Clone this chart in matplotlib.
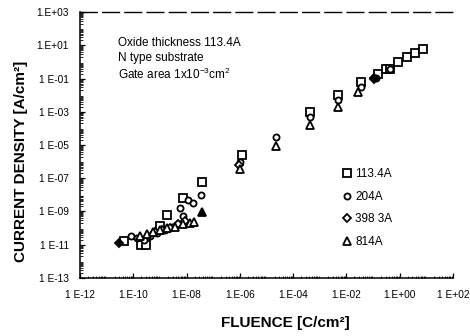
import numpy as np
import matplotlib
matplotlib.use("Agg")
import matplotlib.pyplot as plt
from matplotlib.ticker import LogLocator, FixedLocator, NullFormatter

plt.rcParams['font.family'] = ['Liberation Sans', 'DejaVu Sans']
plt.rcParams['mathtext.fontset'] = 'custom'
plt.rcParams['mathtext.rm'] = 'Liberation Sans'
plt.rcParams['mathtext.it'] = 'Liberation Sans:italic'
plt.rcParams['mathtext.bf'] = 'Liberation Sans:bold'

# log10 values
sq_x = [-10.35, -9.71, -9.52, -8.99, -8.73, -8.13, -7.41, -5.91, -3.35, -2.30, -1.47,
        -0.83, -0.53, -0.38, -0.08, 0.29, 0.56, 0.89]
sq_y = [-10.78, -11.02, -11.02, -9.87, -9.21, -8.19, -7.23, -5.60, -3.02, -2.00, -1.21,
        -0.73, -0.43, -0.43, -0.01, 0.29, 0.53, 0.77]

ci_x = [-10.08, -9.86, -9.59, -9.37, -9.11, -8.80, -8.54, -8.24, -8.13, -7.94, -7.75,
        -7.45, -5.98, -4.63, -3.35, -2.30, -1.47, -0.91, -0.38]
ci_y = [-10.47, -10.59, -10.72, -10.47, -10.29, -10.11, -9.93, -8.79, -9.27, -8.31, -8.49,
        -8.01, -6.02, -4.52, -3.32, -2.30, -1.51, -0.97, -0.43]

di_x = [-9.18, -8.92, -8.62, -8.32, -8.05, -6.02, -0.95]
di_y = [-10.23, -10.11, -9.99, -9.75, -9.57, -6.20, -0.95]
di_fill_x = [-10.53, -0.97]
di_fill_y = [-10.90, -1.00]

tr_x = [-9.74, -9.48, -9.26, -8.99, -8.73, -8.43, -8.13, -7.86, -7.71, -5.98, -4.63,
        -3.35, -2.30, -1.55]
tr_y = [-10.47, -10.35, -10.23, -10.11, -9.99, -9.93, -9.75, -9.69, -9.63, -6.45, -5.06,
        -3.80, -2.72, -1.82]
tr_fill_x = [-7.41]
tr_fill_y = [-9.03]

series_labels = ["113.4A", "204A", "398 3A", "814A"]

xtick_vals = [-12, -10, -8, -6, -4, -2, 0, 2]
xtick_labels = ["1 E-12", "1.E-10", "1.E-08", "1.E-06", "1.E-04", "1.E-02", "1.E+00", "1 E+02"]
ytick_vals = [3, 1, -1, -3, -5, -7, -9, -11, -13]
ytick_labels = ["1.E+03", "1.E+01", "1 E-01", "1 E-03", "1 E-05", "1 E-07", "1 E-09", "1 E-11", "1 E-13"]

fig = plt.figure(figsize=(4.70, 3.36), dpi=100)
ax = fig.add_axes([0.170, 0.173, 0.794, 0.791])
ax.set_xscale('log')
ax.set_yscale('log')
ax.set_xlim(1e-12, 1e2)
ax.set_ylim(1e-13, 1e3)

p = lambda a: 10.0 ** np.array(a)
ms = 5.2
mew = 1.3
h1, = ax.plot(p(sq_x), p(sq_y), ls='none', marker='s', ms=ms, mfc='white', mec='black', mew=mew, label=series_labels[0])
h2, = ax.plot(p(ci_x), p(ci_y), ls='none', marker='o', ms=ms - 0.8, mfc='white', mec='black', mew=mew, label=series_labels[1])
h3, = ax.plot(p(di_x), p(di_y), ls='none', marker='D', ms=ms - 1.4, mfc='white', mec='black', mew=mew, label=series_labels[2])
ax.plot(p(di_fill_x), p(di_fill_y), ls='none', marker='D', ms=ms - 1.0, mfc='black', mec='black', mew=mew)
h4, = ax.plot(p(tr_x), p(tr_y), ls='none', marker='^', ms=ms, mfc='white', mec='black', mew=mew, label=series_labels[3])
ax.plot(p(tr_fill_x), p(tr_fill_y), ls='none', marker='^', ms=ms + 0.5, mfc='black', mec='black', mew=mew)

ax.xaxis.set_major_locator(FixedLocator([10.0 ** v for v in xtick_vals]))
ax.set_xticklabels(xtick_labels)
ax.yaxis.set_major_locator(FixedLocator([10.0 ** v for v in ytick_vals]))
ax.set_yticklabels(ytick_labels)
ax.xaxis.set_minor_locator(LogLocator(base=10, subs=np.arange(2, 10), numticks=100))
ax.yaxis.set_minor_locator(LogLocator(base=10, subs=np.arange(2, 10), numticks=100))
ax.xaxis.set_minor_formatter(NullFormatter())
ax.yaxis.set_minor_formatter(NullFormatter())
ax.tick_params(which='major', direction='in', length=3.5, width=0.9, labelsize=7.3, top=False, right=False)
ax.tick_params(which='minor', direction='in', length=1.8, width=0.6, top=False, right=False)
ax.tick_params(axis='y', which='major', pad=8)
ax.tick_params(axis='x', which='major', pad=9)

ax.spines['right'].set_visible(False)
ax.spines['top'].set_linestyle((0, (12, 4)))
ax.spines['top'].set_linewidth(1.0)
for s in ['left', 'bottom']:
    ax.spines[s].set_linewidth(1.1)

ax.text(0.102, 0.883, "Oxide thickness 113.4A", transform=ax.transAxes, fontsize=8.5, va='center')
ax.text(0.102, 0.826, "N type substrate", transform=ax.transAxes, fontsize=8.5, va='center')
ax.text(0.102, 0.766, r"Gate area 1x10$^{-3}$cm$^2$", transform=ax.transAxes, fontsize=8.5, va='center')

ax.legend(handles=[h1, h2, h3, h4], loc='upper left', bbox_to_anchor=(0.705, 0.413),
          frameon=False, fontsize=8.5, labelspacing=0.9, handlelength=0.7,
          handletextpad=0.35, borderaxespad=0, borderpad=0)

ax.set_xlabel("FLUENCE [C/cm²]", fontsize=11, fontweight='bold')
ax.set_ylabel("CURRENT DENSITY [A/cm²]", fontsize=11, fontweight='bold')
ax.xaxis.set_label_coords(0.55, -0.145)
ax.yaxis.set_label_coords(-0.138, 0.44)

fig.savefig("out.png", dpi=100)
